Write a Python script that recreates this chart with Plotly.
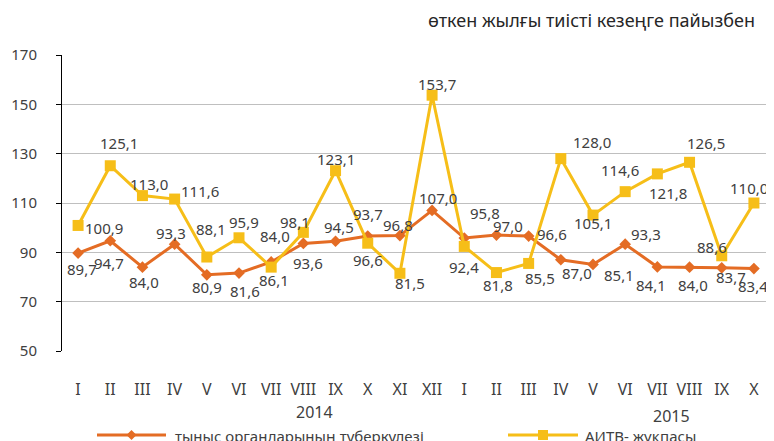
import plotly.graph_objects as go

months = ["I", "II", "III", "IV", "V", "VI", "VII", "VIII", "IX", "X", "XI", "XII",
          "I", "II", "III", "IV", "V", "VI", "VII", "VIII", "IX", "X"]
tb = [89.7, 94.7, 84.0, 93.3, 80.9, 81.6, 86.1, 93.6, 94.5, 96.6, 96.8, 107.0,
      95.8, 97.0, 96.6, 87.0, 85.1, 93.3, 84.1, 84.0, 83.7, 83.4]
hiv = [100.9, 125.1, 113.0, 111.6, 88.1, 95.9, 84.0, 98.1, 123.1, 93.7, 81.5, 153.7,
       92.4, 81.8, 85.5, 128.0, 105.1, 114.6, 121.8, 126.5, 88.6, 110.0]
years = ["2014", "2015"]
series_names = ["тыныс органдарының туберкулезі", "АИТВ- жұқпасы"]
title_text = "өткен жылғы тиісті кезеңге пайызбен"

# label offsets (pixels: right, down) relative to each point
tb_off = [(4, 16), (-1, 22), (2, 15), (-4, -11), (0, 12), (6, 18), (3, 18), (5, 20),
          (3, -14), (0, 24), (-2, -11), (6, -12), (21, -25), (12, -9), (23, -2),
          (16, 13), (26, 11), (21, -10), (-6, 18), (3, 18), (9, 9), (-1, 17)]
hiv_off = [(26, 3), (9, -23), (7, -12), (25, -8), (4, -28), (5, -16), (4, -31), (-8, -10),
           (0, -12), (0, -29), (10, 10), (5, -11), (0, 21), (2, 12), (11, 15),
           (31, -17), (0, 8), (-5, -22), (11, 19), (16, -19), (-10, -9), (-5, -15)]

ORANGE = "#E46C24"
YELLOW = "#F6BE18"
FONT = "Noto Sans"
TXT = "#404040"

x = list(range(len(months)))
fmt = lambda v: f"{v:.1f}".replace(".", ",")

fig = go.Figure()
fig.add_trace(go.Scatter(
    x=x, y=tb, mode="lines+markers", name=series_names[0],
    line=dict(color=ORANGE, width=3),
    marker=dict(symbol="diamond", size=9, color=ORANGE),
    showlegend=False, cliponaxis=False))
fig.add_trace(go.Scatter(
    x=x, y=hiv, mode="lines+markers", name=series_names[1],
    line=dict(color=YELLOW, width=3),
    marker=dict(symbol="square", size=11, color=YELLOW),
    showlegend=False, cliponaxis=False))

# page body has an 8px margin; lay out in screen pixels
OFF = 8
W, H = 774 - OFF, 441 - OFF
PL, PR, PT, PB = 62, 770, 55, 351  # plot area in screen pixels
L, T = PL - OFF, PT - OFF
R = W - (PR - OFF)
B = H - (PB - OFF)
pw, ph = PR - PL, PB - PT

def px2paper(px, py):
    return (px - PL) / pw, (PB - py) / ph

fig.update_layout(
    width=W, height=H, margin=dict(l=L, r=R, t=T, b=B, autoexpand=False),
    paper_bgcolor="white", plot_bgcolor="white",
    font=dict(family=FONT, size=14, color=TXT),
    xaxis=dict(range=[-0.5, len(months) - 0.5], tickmode="array", tickvals=x, ticktext=months,
               showgrid=False, zeroline=False, showline=False,
               ticks="", ticklabelstandoff=27,
               tickfont=dict(family=FONT, size=16, color=TXT)),
    yaxis=dict(range=[50, 170], tickvals=[50, 70, 90, 110, 130, 150, 170],
               showgrid=True, gridcolor="#BFBFBF", gridwidth=1, zeroline=False,
               showline=True, linecolor="black", linewidth=1,
               ticks="outside", ticklen=5, tickcolor="black", ticklabelstandoff=16,
               tickfont=dict(family=FONT, size=15, color=TXT)),
)

annotations = []
for vals, offs in [(tb, tb_off), (hiv, hiv_off)]:
    for xi, v, (dx, dy) in zip(x, vals, offs):
        annotations.append(dict(text=fmt(v), x=xi, y=v, xref="x", yref="y", showarrow=False,
                                xanchor="center", yanchor="middle", xshift=dx, yshift=-dy,
                                font=dict(family=FONT, size=15, color=TXT)))

tx, ty = px2paper(591, 20)
annotations.append(dict(text=title_text, x=tx, y=ty, xref="paper", yref="paper",
                        showarrow=False, xanchor="center", yanchor="middle",
                        font=dict(family=FONT, size=18, color="#262626")))
for yr, (pxx, pyy) in zip(years, [(314, 412), (671, 416)]):
    ax_, ay_ = px2paper(pxx, pyy)
    annotations.append(dict(text=yr, x=ax_, y=ay_, xref="paper", yref="paper", showarrow=False,
                            xanchor="center", yanchor="middle",
                            font=dict(family=FONT, size=16, color=TXT)))

shapes = []
legend_items = [(97, 166, 173, ORANGE, "diamond", series_names[0]),
                (508, 578, 583, YELLOW, "square", series_names[1])]
ly = 435
for x0, x1, xt, col, sym, name in legend_items:
    a0, b0 = px2paper(x0, ly)
    a1, _ = px2paper(x1, ly)
    shapes.append(dict(type="line", xref="paper", yref="paper", x0=a0, x1=a1, y0=b0, y1=b0,
                       line=dict(color=col, width=3)))
    cx = (x0 + x1) / 2
    if sym == "diamond":
        pts = [(cx, ly - 5), (cx + 5, ly), (cx, ly + 5), (cx - 5, ly)]
        path = "M " + " L ".join(f"{px2paper(p[0], p[1])[0]},{px2paper(p[0], p[1])[1]}" for p in pts) + " Z"
        shapes.append(dict(type="path", xref="paper", yref="paper", path=path,
                           fillcolor=col, line=dict(color=col, width=0)))
    else:
        q0 = px2paper(cx - 5, ly + 5)
        q1 = px2paper(cx + 5, ly - 5)
        shapes.append(dict(type="rect", xref="paper", yref="paper", x0=q0[0], y0=q0[1],
                           x1=q1[0], y1=q1[1], fillcolor=col, line=dict(color=col, width=0)))
    tpx, tpy = px2paper(xt, ly + 1)
    annotations.append(dict(text=name, x=tpx, y=tpy, xref="paper", yref="paper", showarrow=False,
                            xanchor="left", yanchor="middle",
                            font=dict(family=FONT, size=15, color=TXT)))

fig.update_layout(annotations=annotations, shapes=shapes)
fig.write_html("out.html")
